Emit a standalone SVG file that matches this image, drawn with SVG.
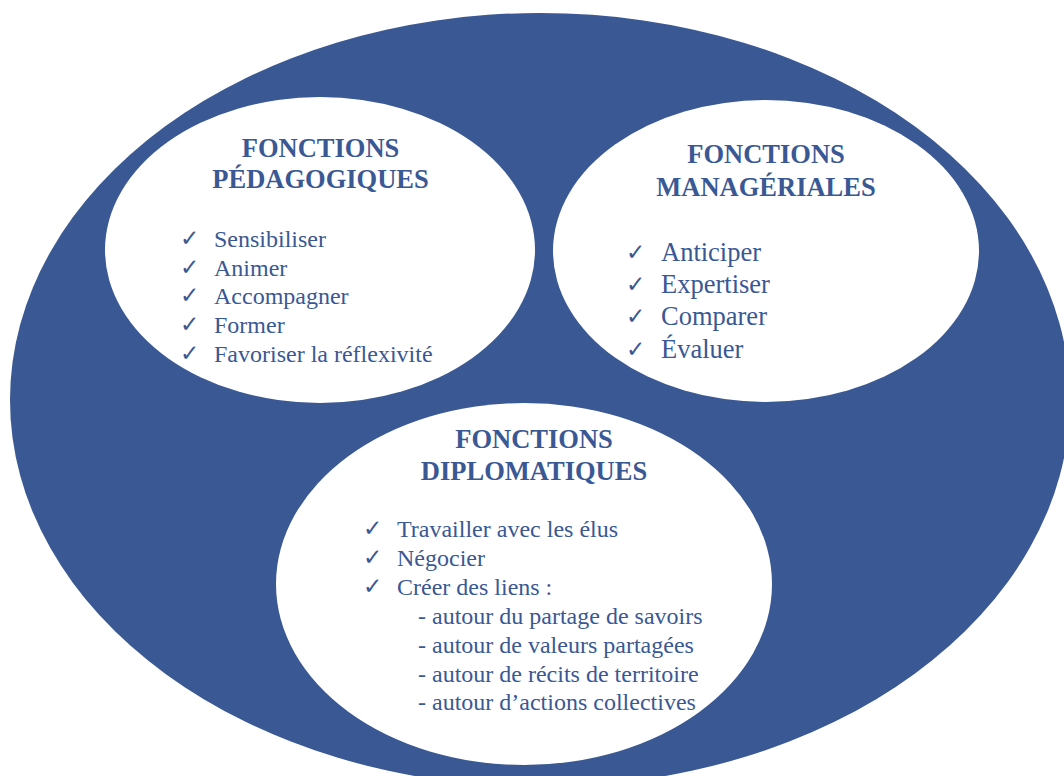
<svg xmlns="http://www.w3.org/2000/svg" width="1064" height="776" viewBox="0 0 1064 776">
<style>
.bg{fill:#ffffff}
.outer{fill:#3a5893}
.inner{fill:#ffffff}
.h{font-family:"Liberation Serif","Times New Roman",serif;font-weight:bold;font-size:26.5px;fill:#3a5893;text-anchor:middle}
.t{font-family:"Liberation Serif","Times New Roman",serif;font-size:24px;fill:#3a5893}
.tl{font-family:"Liberation Serif","Times New Roman",serif;font-size:26.5px;fill:#3a5893}
.ck{font-family:"DejaVu Sans",sans-serif;font-size:23px;fill:#3a5893}
</style>
<rect class="bg" x="0" y="0" width="1064" height="776"/>
<g id="outer"><ellipse class="outer" cx="540" cy="400" rx="530" ry="387"/></g>
<g id="pedagogiques">
<ellipse class="inner" cx="320" cy="250" rx="215" ry="153"/>
<text class="h" x="320.5" y="157">FONCTIONS</text>
<text class="h" x="320.5" y="188">PÉDAGOGIQUES</text>
<text class="ck" x="180" y="246">✓</text><text class="t" x="214" y="247">Sensibiliser</text>
<text class="ck" x="180" y="275">✓</text><text class="t" x="214" y="276">Animer</text>
<text class="ck" x="180" y="303">✓</text><text class="t" x="214" y="304">Accompagner</text>
<text class="ck" x="180" y="332">✓</text><text class="t" x="214" y="333">Former</text>
<text class="ck" x="180" y="361">✓</text><text class="t" x="214" y="362">Favoriser la réflexivité</text>
</g>
<g id="manageriales">
<ellipse class="inner" cx="766" cy="251" rx="213" ry="151"/>
<text class="h" x="766" y="163">FONCTIONS</text>
<text class="h" x="766" y="196">MANAGÉRIALES</text>
<text class="ck" x="626" y="260">✓</text><text class="tl" x="661" y="261">Anticiper</text>
<text class="ck" x="626" y="292">✓</text><text class="tl" x="661" y="293">Expertiser</text>
<text class="ck" x="626" y="324">✓</text><text class="tl" x="661" y="325">Comparer</text>
<text class="ck" x="626" y="357">✓</text><text class="tl" x="661" y="358">Évaluer</text>
</g>
<g id="diplomatiques">
<ellipse class="inner" cx="524" cy="584" rx="248" ry="181"/>
<text class="h" x="534" y="448">FONCTIONS</text>
<text class="h" x="534" y="480">DIPLOMATIQUES</text>
<text class="ck" x="363" y="536">✓</text><text class="t" x="397" y="537">Travailler avec les élus</text>
<text class="ck" x="363" y="565">✓</text><text class="t" x="397" y="566">Négocier</text>
<text class="ck" x="363" y="594">✓</text><text class="t" x="397" y="595">Créer des liens :</text>
<text class="t" x="418" y="624">- autour du partage de savoirs</text>
<text class="t" x="418" y="653">- autour de valeurs partagées</text>
<text class="t" x="418" y="682">- autour de récits de territoire</text>
<text class="t" x="418" y="710">- autour d’actions collectives</text>
</g>
<g id="connectors"></g>
</svg>
